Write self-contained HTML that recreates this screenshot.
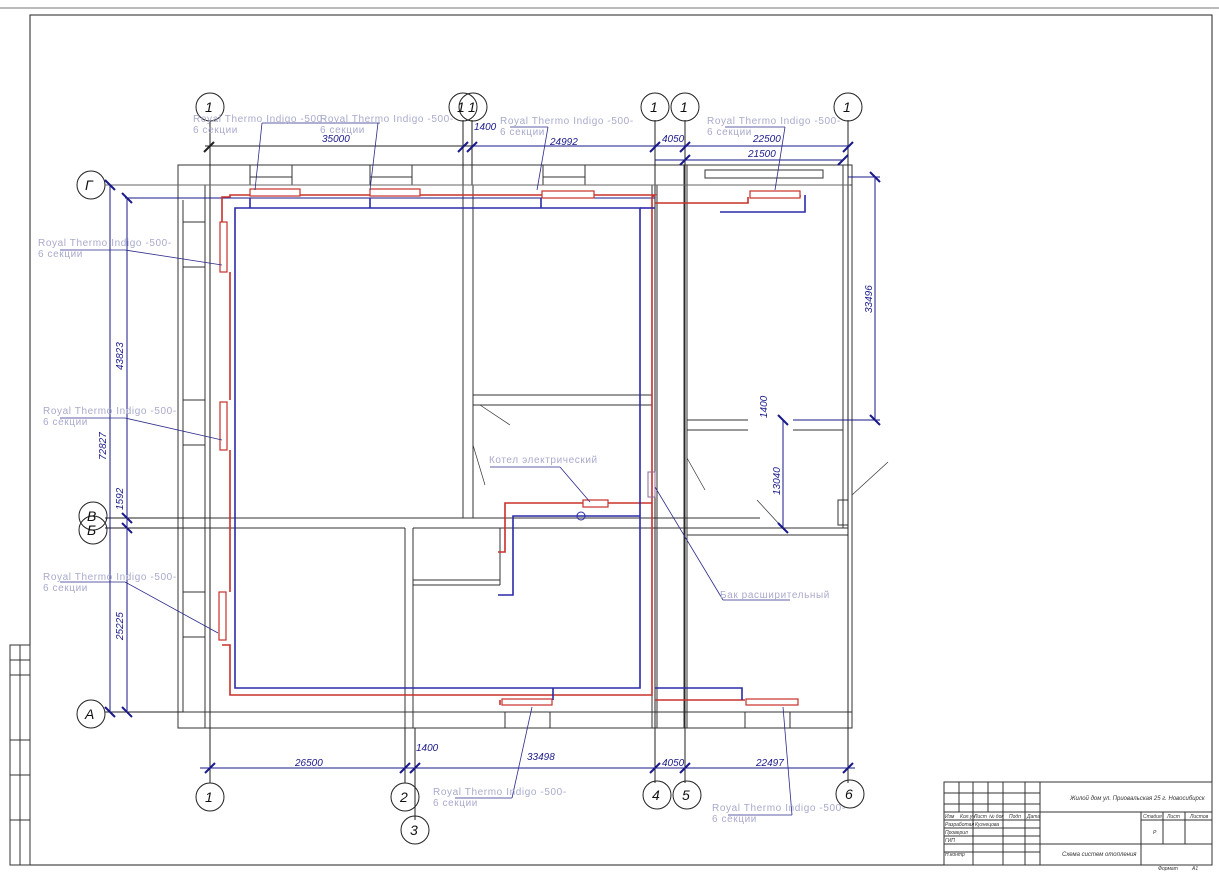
<!DOCTYPE html>
<html><head><meta charset="utf-8"><style>
html,body{margin:0;padding:0;background:#fff;}
svg{display:block;}
text{font-family:"Liberation Sans",sans-serif;}
.lb{fill:#a8aacb;font-size:10px;letter-spacing:0.6px;}
.dm{fill:#1a1a8a;font-size:10px;font-style:italic;}
.ax{fill:#111;font-size:14px;font-style:italic;}
</style></head><body>
<svg width="1219" height="873" viewBox="0 0 1219 873" xmlns="http://www.w3.org/2000/svg">
<g fill="none" stroke="#333" stroke-width="1">
<line x1="0" y1="8" x2="1219" y2="8" stroke="#777"/>
<rect x="30" y="15" width="1182" height="850" stroke="#222"/>
<rect x="10" y="645" width="20" height="220"/>
<line x1="20" y1="645" x2="20" y2="865"/>
<line x1="10" y1="660" x2="30" y2="660"/><line x1="10" y1="675" x2="30" y2="675"/>
<line x1="10" y1="740" x2="30" y2="740"/><line x1="10" y1="775" x2="30" y2="775"/><line x1="10" y1="820" x2="30" y2="820"/>
<!-- title block -->
<rect x="944" y="782" width="268" height="83"/>
<line x1="944" y1="793" x2="1040" y2="793"/><line x1="944" y1="804" x2="1040" y2="804"/>
<line x1="944" y1="812" x2="1212" y2="812"/><line x1="944" y1="820" x2="1040" y2="820"/>
<line x1="944" y1="828" x2="1040" y2="828"/><line x1="944" y1="836" x2="1040" y2="836"/>
<line x1="944" y1="844" x2="1212" y2="844"/><line x1="944" y1="852" x2="1040" y2="852"/>
<line x1="959" y1="782" x2="959" y2="812"/><line x1="973" y1="782" x2="973" y2="865"/>
<line x1="988" y1="782" x2="988" y2="812"/><line x1="1003" y1="782" x2="1003" y2="865"/>
<line x1="1025" y1="782" x2="1025" y2="865"/><line x1="1040" y1="782" x2="1040" y2="865"/>
<line x1="1141" y1="812" x2="1141" y2="865"/><line x1="1163" y1="812" x2="1163" y2="844"/>
<line x1="1185" y1="812" x2="1185" y2="844"/><line x1="1141" y1="820" x2="1212" y2="820"/>
</g>
<g font-size="5" fill="#333" font-style="italic">
<text x="1070" y="800" font-size="6">Жилой дом ул. Приовальская 25  г. Новосибирск</text>
<text x="1062" y="856" font-size="6">Схема систем отопления</text>
<text x="945" y="818">Изм</text><text x="960" y="818">Кол.уч</text><text x="974" y="818">Лист</text><text x="989" y="818">№ док</text><text x="1009" y="818">Подп</text><text x="1027" y="818">Дата</text>
<text x="945" y="826">Разработал</text><text x="975" y="826">Кузнецова</text><text x="945" y="834">Проверил</text><text x="945" y="842">ГИП</text><text x="945" y="856">Н.контр</text>
<text x="1143" y="818">Стадия</text><text x="1167" y="818">Лист</text><text x="1190" y="818">Листов</text><text x="1153" y="834">Р</text>
<text x="1158" y="870">Формат</text><text x="1192" y="870">А1</text>
</g>
<!-- walls -->
<g fill="none" stroke="#333" stroke-width="1">
<rect x="178" y="165" width="674" height="563"/>
<line x1="205" y1="185" x2="852" y2="185"/>
<line x1="205" y1="185" x2="205" y2="728"/>
<line x1="183" y1="712" x2="852" y2="712"/>
<line x1="183" y1="200" x2="183" y2="712"/>
<rect x="250" y="165" width="42" height="20"/><line x1="250" y1="177" x2="292" y2="177"/>
<rect x="370" y="165" width="42" height="20"/><line x1="370" y1="177" x2="412" y2="177"/>
<rect x="543" y="165" width="42" height="20"/><line x1="543" y1="177" x2="585" y2="177"/>
<rect x="705" y="170" width="118" height="8"/>
<rect x="183" y="222" width="22" height="45"/><rect x="183" y="400" width="22" height="45"/><rect x="183" y="592" width="22" height="45"/>
<rect x="505" y="712" width="45" height="16"/><rect x="745" y="712" width="45" height="16"/>
<line x1="463" y1="185" x2="463" y2="518"/><line x1="473" y1="185" x2="473" y2="518"/>
<line x1="652" y1="185" x2="652" y2="728"/><line x1="657" y1="185" x2="657" y2="728"/>
<line x1="684" y1="165" x2="684" y2="728"/><line x1="687" y1="165" x2="687" y2="728"/>
<line x1="843" y1="165" x2="843" y2="528"/><line x1="848" y1="165" x2="848" y2="728"/>
<line x1="473" y1="395" x2="652" y2="395"/><line x1="473" y1="405" x2="652" y2="405"/>
<line x1="687" y1="420" x2="748" y2="420"/><line x1="687" y1="430" x2="748" y2="430"/>
<line x1="793" y1="420" x2="843" y2="420"/><line x1="793" y1="430" x2="843" y2="430"/>
<line x1="205" y1="518" x2="760" y2="518"/><line x1="205" y1="528" x2="405" y2="528"/>
<line x1="413" y1="528" x2="848" y2="528"/><line x1="687" y1="535" x2="848" y2="535"/>
<line x1="413" y1="528" x2="413" y2="728"/><line x1="405" y1="528" x2="405" y2="728"/>
<line x1="413" y1="580" x2="500" y2="580"/><line x1="413" y1="585" x2="500" y2="585"/>
<line x1="500" y1="528" x2="500" y2="585"/>
<rect x="838" y="500" width="10" height="25"/>
<line x1="480" y1="405" x2="510" y2="425" stroke-width="0.7"/><line x1="473" y1="445" x2="485" y2="485" stroke-width="0.7"/>
<line x1="687" y1="458" x2="705" y2="490" stroke-width="0.7"/><line x1="757" y1="500" x2="780" y2="525" stroke-width="0.7"/>
<line x1="852" y1="495" x2="888" y2="462" stroke-width="0.7"/>
</g>
<!-- axis lines -->
<g stroke="#222" stroke-width="1" fill="none">
<line x1="210" y1="120" x2="210" y2="783"/><line x1="463" y1="120" x2="463" y2="185"/><line x1="472" y1="120" x2="472" y2="185"/>
<line x1="655" y1="120" x2="655" y2="783"/><line x1="685" y1="120" x2="685" y2="783"/><line x1="848" y1="120" x2="848" y2="783"/>
<line x1="405" y1="728" x2="405" y2="783"/><line x1="415" y1="728" x2="415" y2="820"/>
<line x1="105" y1="185" x2="178" y2="185"/><line x1="105" y1="518" x2="205" y2="518"/><line x1="105" y1="528" x2="205" y2="528"/><line x1="105" y1="712" x2="183" y2="712"/>
<circle cx="210" cy="107" r="14"/><circle cx="463" cy="107" r="14"/><circle cx="473" cy="107" r="14"/>
<circle cx="655" cy="107" r="14"/><circle cx="685" cy="107" r="14"/><circle cx="848" cy="107" r="14"/>
<circle cx="91" cy="185" r="14"/><circle cx="93" cy="516" r="14"/><circle cx="93" cy="530" r="14"/><circle cx="91" cy="714" r="14"/>
<circle cx="210" cy="797" r="14"/><circle cx="405" cy="797" r="14"/><circle cx="415" cy="830" r="14"/>
<circle cx="657" cy="795" r="14"/><circle cx="687" cy="795" r="14"/><circle cx="850" cy="794" r="14"/>
</g>
<g class="ax">
<text x="205" y="112">1</text><text x="457" y="112">1</text><text x="468" y="112">1</text><text x="650" y="112">1</text><text x="680" y="112">1</text><text x="843" y="112">1</text>
<text x="85" y="190">Г</text><text x="87" y="521">В</text><text x="87" y="535">Б</text><text x="85" y="719">А</text>
<text x="205" y="802">1</text><text x="400" y="802">2</text><text x="410" y="835">3</text><text x="652" y="800">4</text><text x="682" y="800">5</text><text x="845" y="799">6</text>
</g>
<!-- dimensions -->
<g stroke="#1a1a8a" stroke-width="1" fill="none">
<line x1="205" y1="146" x2="472" y2="146" stroke="#222"/><line x1="472" y1="146" x2="660" y2="146"/>
<line x1="655" y1="146" x2="850" y2="146"/><line x1="655" y1="160" x2="843" y2="160"/>
<line x1="105" y1="185" x2="850" y2="185" stroke="#666"/>
<line x1="125" y1="198" x2="655" y2="198"/>
<line x1="848" y1="177" x2="880" y2="177"/><line x1="875" y1="177" x2="875" y2="420"/>
<line x1="793" y1="420" x2="880" y2="420"/>
<line x1="783" y1="420" x2="783" y2="528"/>
<line x1="110" y1="185" x2="110" y2="712"/><line x1="127" y1="198" x2="127" y2="712"/>
<line x1="200" y1="768" x2="855" y2="768"/>
</g>
<g stroke="#1a1a8a" stroke-width="2">
<line x1="204" y1="152" x2="214" y2="142" stroke="#222"/><line x1="458" y1="152" x2="468" y2="142"/><line x1="467" y1="152" x2="477" y2="142"/>
<line x1="650" y1="152" x2="660" y2="142"/><line x1="680" y1="152" x2="690" y2="142"/><line x1="843" y1="152" x2="853" y2="142"/>
<line x1="680" y1="165" x2="690" y2="155"/><line x1="838" y1="165" x2="848" y2="155"/>
<line x1="105" y1="180" x2="115" y2="190"/><line x1="122" y1="193" x2="132" y2="203"/><line x1="870" y1="172" x2="880" y2="182"/><line x1="870" y1="415" x2="880" y2="425"/>
<line x1="105" y1="707" x2="115" y2="717"/><line x1="122" y1="707" x2="132" y2="717"/><line x1="122" y1="513" x2="132" y2="523"/><line x1="122" y1="523" x2="132" y2="533"/>
<line x1="778" y1="415" x2="788" y2="425"/><line x1="778" y1="523" x2="788" y2="533"/>
<line x1="205" y1="773" x2="215" y2="763"/><line x1="400" y1="773" x2="410" y2="763"/><line x1="410" y1="773" x2="420" y2="763"/>
<line x1="650" y1="773" x2="660" y2="763"/><line x1="680" y1="773" x2="690" y2="763"/><line x1="843" y1="773" x2="853" y2="763"/>
</g>
<g class="dm">
<text x="322" y="142">35000</text><text x="474" y="130">1400</text><text x="550" y="145">24992</text><text x="662" y="142">4050</text>
<text x="753" y="142">22500</text><text x="748" y="157">21500</text>
<text x="295" y="766">26500</text><text x="416" y="751">1400</text><text x="527" y="760">33498</text><text x="662" y="766">4050</text><text x="756" y="766">22497</text>
<text transform="translate(106,460) rotate(-90)">72827</text><text transform="translate(123,370) rotate(-90)">43823</text>
<text transform="translate(123,510) rotate(-90)">1592</text><text transform="translate(123,640) rotate(-90)">25225</text>
<text transform="translate(872,313) rotate(-90)">33496</text><text transform="translate(767,418) rotate(-90)">1400</text><text transform="translate(780,495) rotate(-90)">13040</text>
</g>
<!-- pipes -->
<g fill="none" stroke-width="1.6">
<polyline stroke="#c8302a" points="222,222 222,197 230,197 230,195 655,195 652,197 652,695 230,695 230,645 222,645"/>
<polyline stroke="#c8302a" points="230,272 230,400"/><polyline stroke="#c8302a" points="230,450 230,592"/>
<polyline stroke="#c8302a" points="655,203 748,203 748,197"/><polyline stroke="#c8302a" points="800,195 800,197"/>
<polyline stroke="#c8302a" points="655,700 745,700"/><polyline stroke="#c8302a" points="500,700 500,705"/>
<polyline stroke="#c8302a" points="652,503 505,503 505,552 498,552"/>
<polyline stroke="#2a2aa8" points="235,275 235,208 640,208 640,688 235,688 235,272"/>
<polyline stroke="#2a2aa8" points="640,208 655,208"/><polyline stroke="#2a2aa8" points="720,212 805,212 805,195"/>
<polyline stroke="#2a2aa8" points="655,688 742,688 742,700"/><polyline stroke="#2a2aa8" points="553,688 553,700"/>
<polyline stroke="#2a2aa8" points="640,516 513,516 513,595 498,595"/>
<polyline stroke="#2a2aa8" points="250,198 250,208"/><polyline stroke="#2a2aa8" points="370,198 370,208"/><polyline stroke="#2a2aa8" points="541,198 541,208"/>
</g>
<!-- radiators -->
<g fill="#fff" stroke="#c8302a" stroke-width="1.2">
<rect x="250" y="189" width="50" height="7"/><rect x="370" y="189" width="50" height="7"/><rect x="542" y="191" width="52" height="7"/><rect x="750" y="191" width="50" height="7"/>
<rect x="220" y="222" width="7" height="50"/><rect x="220" y="402" width="7" height="48"/><rect x="219" y="592" width="7" height="48"/>
<rect x="502" y="699" width="50" height="6"/><rect x="746" y="699" width="52" height="6"/>
<rect x="583" y="500" width="25" height="7"/>
</g>
<rect x="648" y="472" width="7" height="25" fill="none" stroke="#8a6a9a"/>
<circle cx="581" cy="516" r="4" fill="none" stroke="#2a2aa8"/>
<!-- leaders -->
<g stroke="#2a2a8a" stroke-width="0.8" fill="none">
<line x1="255" y1="190" x2="262" y2="123"/><line x1="262" y1="123" x2="320" y2="123"/>
<line x1="370" y1="190" x2="378" y2="123"/><line x1="320" y1="123" x2="380" y2="123"/>
<line x1="537" y1="190" x2="548" y2="127"/><line x1="510" y1="127" x2="548" y2="127"/>
<line x1="775" y1="190" x2="785" y2="127"/><line x1="725" y1="127" x2="785" y2="127"/>
<line x1="60" y1="250" x2="125" y2="250"/><line x1="125" y1="250" x2="222" y2="265"/>
<line x1="60" y1="418" x2="125" y2="418"/><line x1="125" y1="418" x2="222" y2="440"/>
<line x1="60" y1="582" x2="125" y2="582"/><line x1="125" y1="582" x2="218" y2="633"/>
<line x1="455" y1="798" x2="512" y2="798"/><line x1="512" y1="798" x2="532" y2="707"/>
<line x1="728" y1="815" x2="792" y2="815"/><line x1="792" y1="815" x2="783" y2="707"/>
<line x1="490" y1="467" x2="560" y2="467"/><line x1="560" y1="467" x2="590" y2="502"/>
<line x1="655" y1="487" x2="723" y2="600"/><line x1="723" y1="600" x2="790" y2="600"/>
</g>
<g class="lb">
<text x="193" y="122">Royal Thermo Indigo -500-</text><text x="193" y="133">6 секции</text>
<text x="320" y="122">Royal Thermo Indigo -500-</text><text x="320" y="133">6 секции</text>
<text x="500" y="124">Royal Thermo Indigo -500-</text><text x="500" y="135">6 секции</text>
<text x="707" y="124">Royal Thermo Indigo -500-</text><text x="707" y="135">6 секции</text>
<text x="38" y="246">Royal Thermo Indigo -500-</text><text x="38" y="257">6 секции</text>
<text x="43" y="414">Royal Thermo Indigo -500-</text><text x="43" y="425">6 секции</text>
<text x="43" y="580">Royal Thermo Indigo -500-</text><text x="43" y="591">6 секции</text>
<text x="433" y="795">Royal Thermo Indigo -500-</text><text x="433" y="806">6 секции</text>
<text x="712" y="811">Royal Thermo Indigo -500-</text><text x="712" y="822">6 секции</text>
<text x="489" y="463">Котел электрический</text>
<text x="720" y="598">Бак расширительный</text>
</g>
</svg>
</body></html>
